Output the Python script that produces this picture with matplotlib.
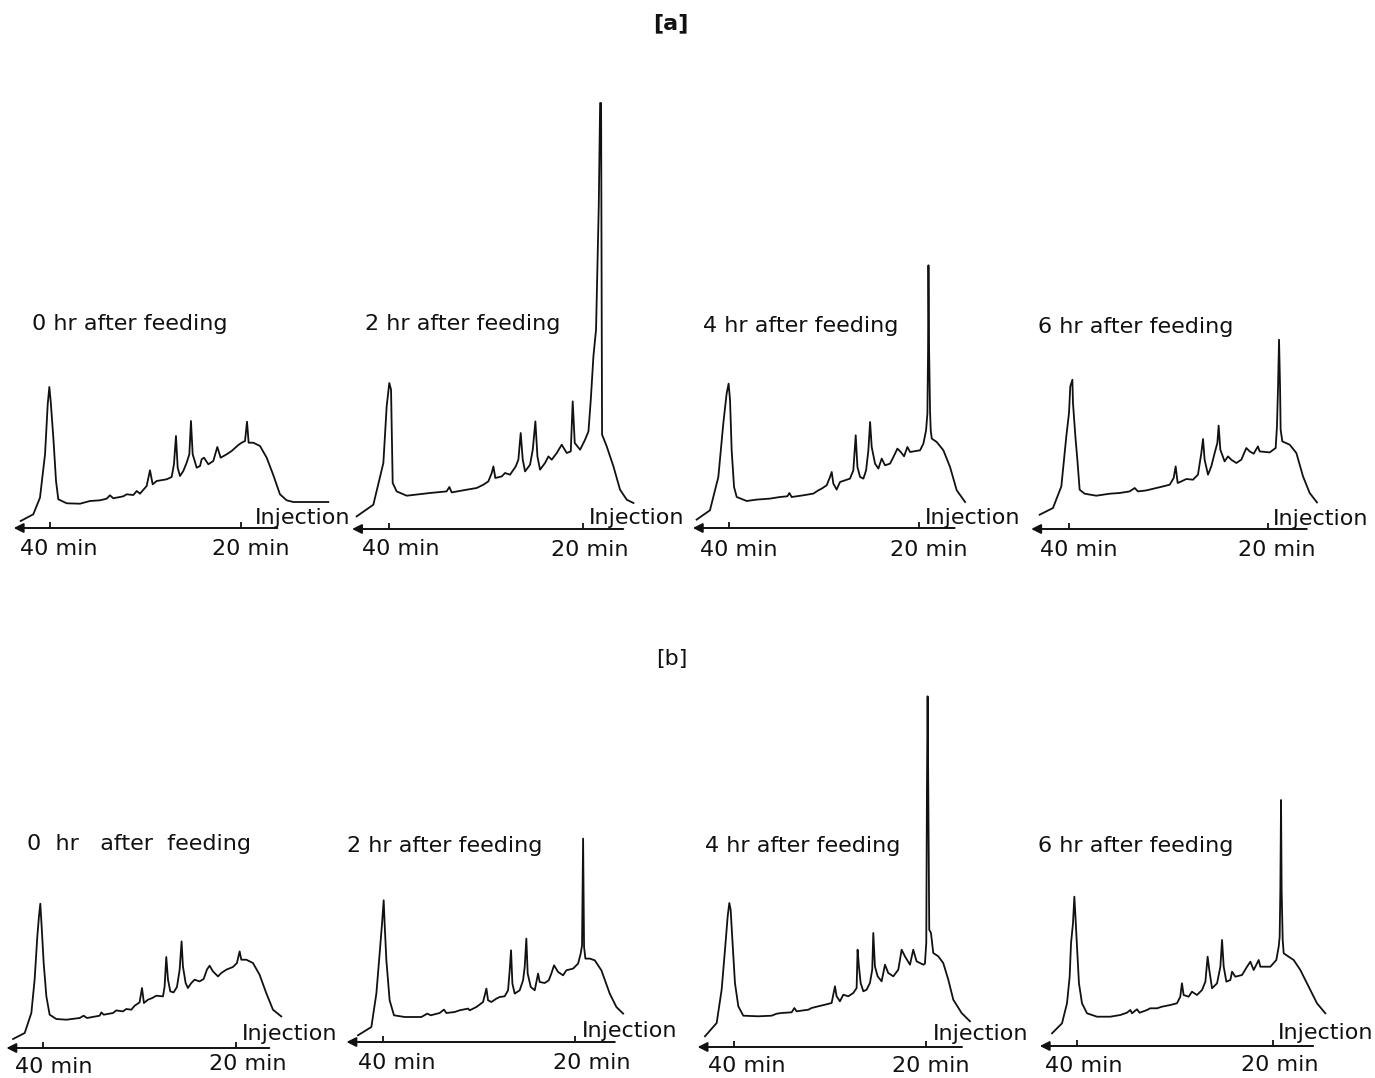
import matplotlib
matplotlib.use('Agg')
import matplotlib.pyplot as plt

# Chromatograms: retention time (min) vs detector response (arbitrary units, 0 = time axis)
t_a0 = [43.07, 41.75, 41.05, 40.52, 40.24, 40.07, 39.93, 39.65, 39.37, 39.13, 38.25, 36.86, 35.81, 34.76, 34.07,
        33.72, 33.37, 32.32, 31.97, 31.27, 30.92, 30.58, 29.88, 29.53, 29.25, 28.83, 27.78, 27.26, 27.02, 26.81,
        26.63, 26.39, 26.04, 25.69, 25.41, 25.24, 25.06, 24.64, 24.29, 24.12, 23.87, 23.42, 22.90, 22.48, 22.13,
        21.50, 20.98, 20.28, 19.93, 19.58, 19.37, 19.20, 18.71, 18.01, 17.31, 16.61, 15.92, 15.22, 14.52, 10.86]
s_a0 = [7, 13.7, 30.3, 73.7, 123.7, 141, 127, 90.3, 47, 28.7, 24.7, 24.3, 27, 27.7, 29.3,
        32.7, 29.7, 31.7, 33.7, 33, 37, 34.3, 42, 57.7, 43.7, 47, 48.7, 51, 63.7, 92,
        60.3, 52, 57, 65.3, 73.7, 107, 73.7, 60.3, 62, 68.7, 70.3, 63.7, 67, 81, 70.3,
        73.7, 77, 83, 85.3, 87, 106.3, 85.3, 85.3, 82, 70.3, 52.7, 33.7, 27.7, 26, 26]

t_a2 = [43.33, 41.61, 40.58, 40.24, 39.97, 39.79, 39.73, 39.62, 39.21, 38.18, 35.78, 34.07, 33.79, 33.55, 32.01,
        30.98, 30.29, 29.78, 29.43, 29.26, 29.06, 28.40, 28.06, 27.55, 26.96, 26.69, 26.45, 26.24, 26.00, 25.49,
        25.21, 24.94, 24.73, 24.46, 23.95, 23.60, 23.26, 22.74, 22.23, 21.71, 21.30, 21.10, 20.89, 20.34, 19.83,
        19.48, 19.24, 18.97, 18.70, 18.42, 18.28, 18.18, 18.08, 17.94, 17.60, 16.91, 16.23, 15.54, 14.85]
s_a2 = [12.6, 24.3, 66, 122.6, 146, 139.3, 106, 46, 37.6, 33.3, 36, 37.6, 42, 36.6, 39.3,
        41, 44.3, 47.6, 56, 62.6, 51, 52.6, 56, 54.3, 62.6, 69.3, 96, 69.3, 57.6, 64.3,
        79.3, 107.6, 72.6, 59.3, 66, 72.6, 69.3, 76, 84.3, 76, 77.6, 127.6, 86, 79.3, 89.3,
        97.6, 129.3, 172.6, 199.3, 322.6, 426, 426, 94.3, 91, 82.6, 62.6, 39.3, 29.3, 26]

t_a4 = [43.40, 42.00, 41.12, 40.60, 40.25, 40.04, 39.89, 39.72, 39.47, 39.19, 38.14, 37.09, 35.69, 34.64, 33.87,
        33.66, 33.42, 32.19, 31.14, 30.61, 30.26, 29.74, 29.39, 29.21, 29.04, 28.69, 28.34, 27.81, 27.29, 26.94,
        26.69, 26.51, 26.23, 25.88, 25.60, 25.36, 25.18, 25.01, 24.66, 24.31, 23.96, 23.61, 23.08, 22.73, 22.31,
        21.96, 21.61, 21.26, 20.98, 19.93, 19.58, 19.30, 19.16, 19.09, 19.05, 18.98, 18.88, 18.81, 18.70, 18.18,
        17.48, 16.78, 16.08, 15.20]
s_a4 = [8.4, 17.7, 51, 104.4, 134.4, 144.4, 127.7, 77.7, 41, 31, 27, 28.4, 29.4, 31, 31.7,
        35, 31, 32.7, 34.4, 37.7, 39.4, 42.7, 51, 56, 44.4, 38.4, 46, 47.7, 49.4, 57.7,
        92.7, 61, 51, 49.4, 57.7, 77.7, 106, 81, 64.4, 59.4, 69.4, 62.7, 64.4, 71, 79.4,
        76, 71.7, 81, 76, 77.7, 84.4, 97.7, 114.4, 177.7, 262.7, 177.7, 116, 97.7, 89.4, 86,
        77.7, 61, 37.7, 26]

t_a6 = [42.95, 41.61, 40.77, 40.27, 40.00, 39.87, 39.66, 39.60, 39.36, 39.16, 38.93, 38.43, 37.25, 35.91, 34.91,
        33.90, 33.40, 33.07, 32.23, 31.22, 30.55, 29.88, 29.48, 29.28, 29.08, 28.71, 28.21, 27.54, 27.04, 26.70,
        26.53, 26.37, 26.03, 25.70, 25.36, 25.09, 24.96, 24.79, 24.36, 24.02, 23.69, 23.18, 22.68, 22.18, 21.84,
        21.44, 21.01, 20.84, 19.83, 19.23, 19.10, 18.99, 18.89, 18.79, 18.73, 18.56, 17.82, 17.15, 16.48, 15.81,
        15.08]
s_a6 = [14.3, 21, 42.6, 92.6, 116, 142.6, 149.3, 126, 92.6, 69.3, 39.3, 35.3, 33.3, 35.3, 36,
        37.6, 41, 37.6, 38.6, 41, 42.6, 44.3, 51, 62.6, 46, 47.6, 50, 49.3, 54.3, 76,
        90, 69.3, 54.3, 62.6, 76, 86, 103.3, 79.3, 67.6, 72.6, 69.3, 66, 69.3, 81, 77.6,
        75.3, 82.6, 77.6, 76.6, 81, 102.6, 142.6, 189.3, 142.6, 99.3, 87.6, 84.3, 76, 52.6, 36,
        26.6]

t_b0 = [43.11, 41.90, 41.21, 40.87, 40.59, 40.42, 40.28, 40.14, 39.93, 39.65, 39.31, 38.62, 37.58, 36.19, 35.78,
        35.43, 34.12, 33.94, 33.70, 32.73, 32.39, 31.70, 31.35, 30.83, 30.48, 29.97, 29.72, 29.52, 29.10, 28.65,
        28.24, 27.54, 27.37, 27.20, 27.02, 26.78, 26.44, 26.09, 25.81, 25.61, 25.47, 25.19, 24.95, 24.60, 24.26,
        23.74, 23.32, 22.98, 22.70, 22.35, 21.83, 21.49, 20.97, 20.28, 19.86, 19.58, 19.41, 18.89, 18.20, 17.51,
        16.82, 16.12, 15.26]
s_b0 = [9, 15, 35, 68.3, 111.6, 131.6, 144.3, 121.6, 85, 51.6, 33.3, 29, 28.3, 30, 32.3,
        30, 32.3, 35.6, 33.3, 35, 37.6, 36.6, 39, 38.3, 42.3, 45.6, 60, 45, 48.3, 50,
        52.3, 51.6, 61.6, 91, 68.3, 56.6, 55.6, 61, 78.3, 106.6, 81.6, 65, 60, 65, 68.3,
        66.6, 69, 78.3, 82.3, 76.6, 71.6, 75, 78.3, 81, 85, 96.6, 88.3, 88.3, 85, 73.3,
        55, 38.3, 31.6]

t_b2 = [42.60, 41.21, 40.69, 40.35, 40.10, 39.93, 39.83, 39.65, 39.31, 38.86, 37.75, 36.01, 35.39, 35.04, 34.11,
        33.66, 33.41, 32.55, 32.03, 31.16, 30.99, 30.29, 29.60, 29.25, 29.08, 28.73, 28.21, 27.87, 27.35, 27.00,
        26.83, 26.69, 26.55, 26.31, 25.79, 25.44, 25.27, 25.10, 24.96, 24.64, 24.23, 23.88, 23.71, 23.19, 22.77,
        22.50, 22.22, 21.80, 21.28, 20.94, 20.24, 19.72, 19.45, 19.31, 19.20, 19.10, 18.96, 18.51, 17.99, 17.30,
        16.43, 15.74, 15.04]
s_b2 = [6.7, 15, 48.4, 88.4, 118.4, 141.7, 118.4, 81.7, 41.7, 26.7, 25, 25, 28.4, 26.7, 29,
        32.4, 29, 30, 31.7, 33.4, 31.7, 35, 40, 53.4, 41.7, 40, 43.4, 45, 45.7, 51.7,
        71.7, 91.7, 58.4, 48.4, 51.7, 61.7, 75, 103.4, 68.4, 55, 51.7, 68.4, 60, 59, 61.7,
        68.4, 76.7, 70, 66.7, 71.7, 73.4, 78.4, 88.4, 96.7, 203.4, 95, 83.4, 83.4, 81.7, 71.7,
        48.4, 35, 28.4]

t_b4 = [43.03, 41.81, 41.29, 40.94, 40.66, 40.49, 40.35, 40.17, 39.90, 39.55, 39.03, 37.46, 36.07, 35.55, 35.03,
        33.98, 33.70, 33.46, 32.24, 31.90, 31.20, 30.50, 29.81, 29.46, 29.29, 28.94, 28.59, 28.07, 27.55, 27.20,
        27.10, 26.96, 26.78, 26.50, 26.16, 25.81, 25.57, 25.46, 25.29, 25.01, 24.59, 24.24, 23.90, 23.37, 22.85,
        22.50, 22.16, 21.63, 21.29, 20.94, 20.24, 20.07, 19.93, 19.86, 19.79, 19.72, 19.62, 19.44, 19.20, 18.68,
        18.16, 17.63, 17.11, 16.24, 15.37]
s_b4 = [10.7, 24, 57.3, 97.3, 130.7, 144, 137.3, 107.3, 64, 40.7, 31.3, 30.7, 31.3, 33.3, 34,
        34.7, 39, 35.7, 37.3, 39, 40.7, 42.3, 44, 60.7, 50.7, 45.7, 52.3, 50.7, 54, 59,
        97.3, 80.7, 64, 55.7, 57.3, 64, 77.3, 114, 80.7, 70.7, 65.7, 82.3, 74, 70.7, 77.3,
        97.3, 90.7, 82.3, 97.3, 85.7, 82.3, 83.3, 104, 257.3, 350.7, 257.3, 117.3, 114, 94, 90.7,
        84, 67.3, 47.3, 34, 25.7]

t_b6 = [42.55, 41.53, 41.02, 40.75, 40.61, 40.41, 40.27, 40.14, 40.00, 39.80, 39.49, 38.98, 37.96, 36.60, 35.58,
        34.90, 34.56, 34.39, 33.88, 33.61, 32.86, 32.52, 31.84, 31.33, 30.48, 29.80, 29.46, 29.29, 29.12, 28.61,
        28.27, 27.76, 27.24, 26.90, 26.67, 26.50, 26.22, 25.71, 25.37, 25.20, 25.03, 24.76, 24.35, 24.18, 23.84,
        23.16, 22.65, 22.31, 21.97, 21.46, 21.29, 20.27, 19.66, 19.42, 19.32, 19.25, 19.18, 19.12, 19.01, 18.91,
        18.40, 17.89, 17.21, 16.19, 15.51, 14.66]
s_b6 = [12.7, 22.7, 42.7, 69.3, 102.7, 122.7, 149.3, 126, 99.3, 62.7, 42.7, 32.7, 29.3, 29.3, 31,
        33.3, 36, 32.7, 36.7, 33.3, 36, 37.7, 37.7, 39.3, 41, 42.7, 49.3, 62.7, 51, 49.3,
        54.3, 51, 56, 64.3, 89.3, 76, 57.7, 62.7, 79.3, 106, 79.3, 64.3, 66, 74.3, 69.3,
        71, 79.3, 84.3, 76, 86, 79.3, 79.3, 86, 99.3, 109.3, 156, 246, 156, 106, 92.7,
        89.3, 86, 76, 56, 42.7, 32.7]

labels = ['0 hr after feeding', '2 hr after feeding', '4 hr after feeding', '6 hr after feeding',
          '0  hr   after  feeding', '2 hr after feeding', '4 hr after feeding', '6 hr after feeding']
traces = [(t_a0, s_a0), (t_a2, s_a2), (t_a4, s_a4), (t_a6, s_a6),
          (t_b0, s_b0), (t_b2, s_b2), (t_b4, s_b4), (t_b6, s_b6)]
tick_times = [40, 20]
arrow_left = 43.8
arrow_right = [16.2, 15.9, 16.3, 16.1, 16.5, 15.9, 16.2, 15.9]

# placement of each small chromatogram on the page (pixels): 40-min tick x, px per min, time-axis y
W, H = 1375, 1078
layout = [(50, 9.55, 528), (389, 9.72, 529), (729, 9.52, 528), (1069, 9.95, 529),
          (43, 9.63, 1048), (383, 9.62, 1042), (734, 9.58, 1047), (1077, 9.80, 1046)]
label_xy = [(32, 330), (365, 330), (703, 332), (1038, 333),
            (27, 850), (347, 852), (705, 852), (1038, 852)]
inj_xy = [(255, 524), (589, 524), (925, 524), (1273, 525),
          (242, 1040), (582, 1037), (933, 1040), (1278, 1039)]
min40_xy = [(20, 555), (362, 555), (700, 556), (1040, 556),
            (15, 1073), (358, 1069), (708, 1072), (1045, 1072)]
min20_xy = [(212, 555), (551, 556), (890, 556), (1238, 556),
            (209, 1070), (553, 1069), (892, 1072), (1241, 1071)]

plt.rcParams['font.family'] = 'DejaVu Sans'
fig = plt.figure(figsize=(13.75, 10.78), dpi=100)
fs = 16
ink = '#111111'


def fx(x, y):
    return x / W, 1 - y / H


t_hi, t_lo = 45, 8
s_lo, s_hi = -30, 460

for i, (t, s) in enumerate(traces):
    x40, ppm, ay = layout[i]
    left = x40 - (t_hi - 40) * ppm
    width = (t_hi - t_lo) * ppm
    bottom = ay - s_lo
    ax = fig.add_axes([left / W, 1 - bottom / H, width / W, (s_hi - s_lo) / H])
    ax.set_xlim(t_hi, t_lo)
    ax.set_ylim(s_lo, s_hi)
    ax.axis('off')
    ax.plot(t, s, color=ink, lw=1.3)
    ax.annotate('', xy=(arrow_left, 0), xytext=(arrow_right[i], 0),
                arrowprops=dict(arrowstyle='-|>', color=ink, lw=1.4,
                                mutation_scale=14, shrinkA=0, shrinkB=0))
    ax.vlines(tick_times, 0, 6, color=ink, lw=1.3)

    fig.text(*fx(*label_xy[i]), labels[i], fontsize=fs, color=ink, ha='left', va='baseline')
    fig.text(*fx(*inj_xy[i]), 'Injection', fontsize=fs, color=ink, ha='left', va='baseline')
    fig.text(*fx(*min40_xy[i]), '40 min', fontsize=fs, color=ink, ha='left', va='baseline')
    fig.text(*fx(*min20_xy[i]), '20 min', fontsize=fs, color=ink, ha='left', va='baseline')

fig.text(*fx(671, 29), '[a]', fontsize=fs, color=ink, ha='center', va='baseline', fontweight='bold')
fig.text(*fx(672, 665), '[b]', fontsize=fs, color=ink, ha='center', va='baseline')

fig.savefig('out.png', dpi=100, facecolor='white')
